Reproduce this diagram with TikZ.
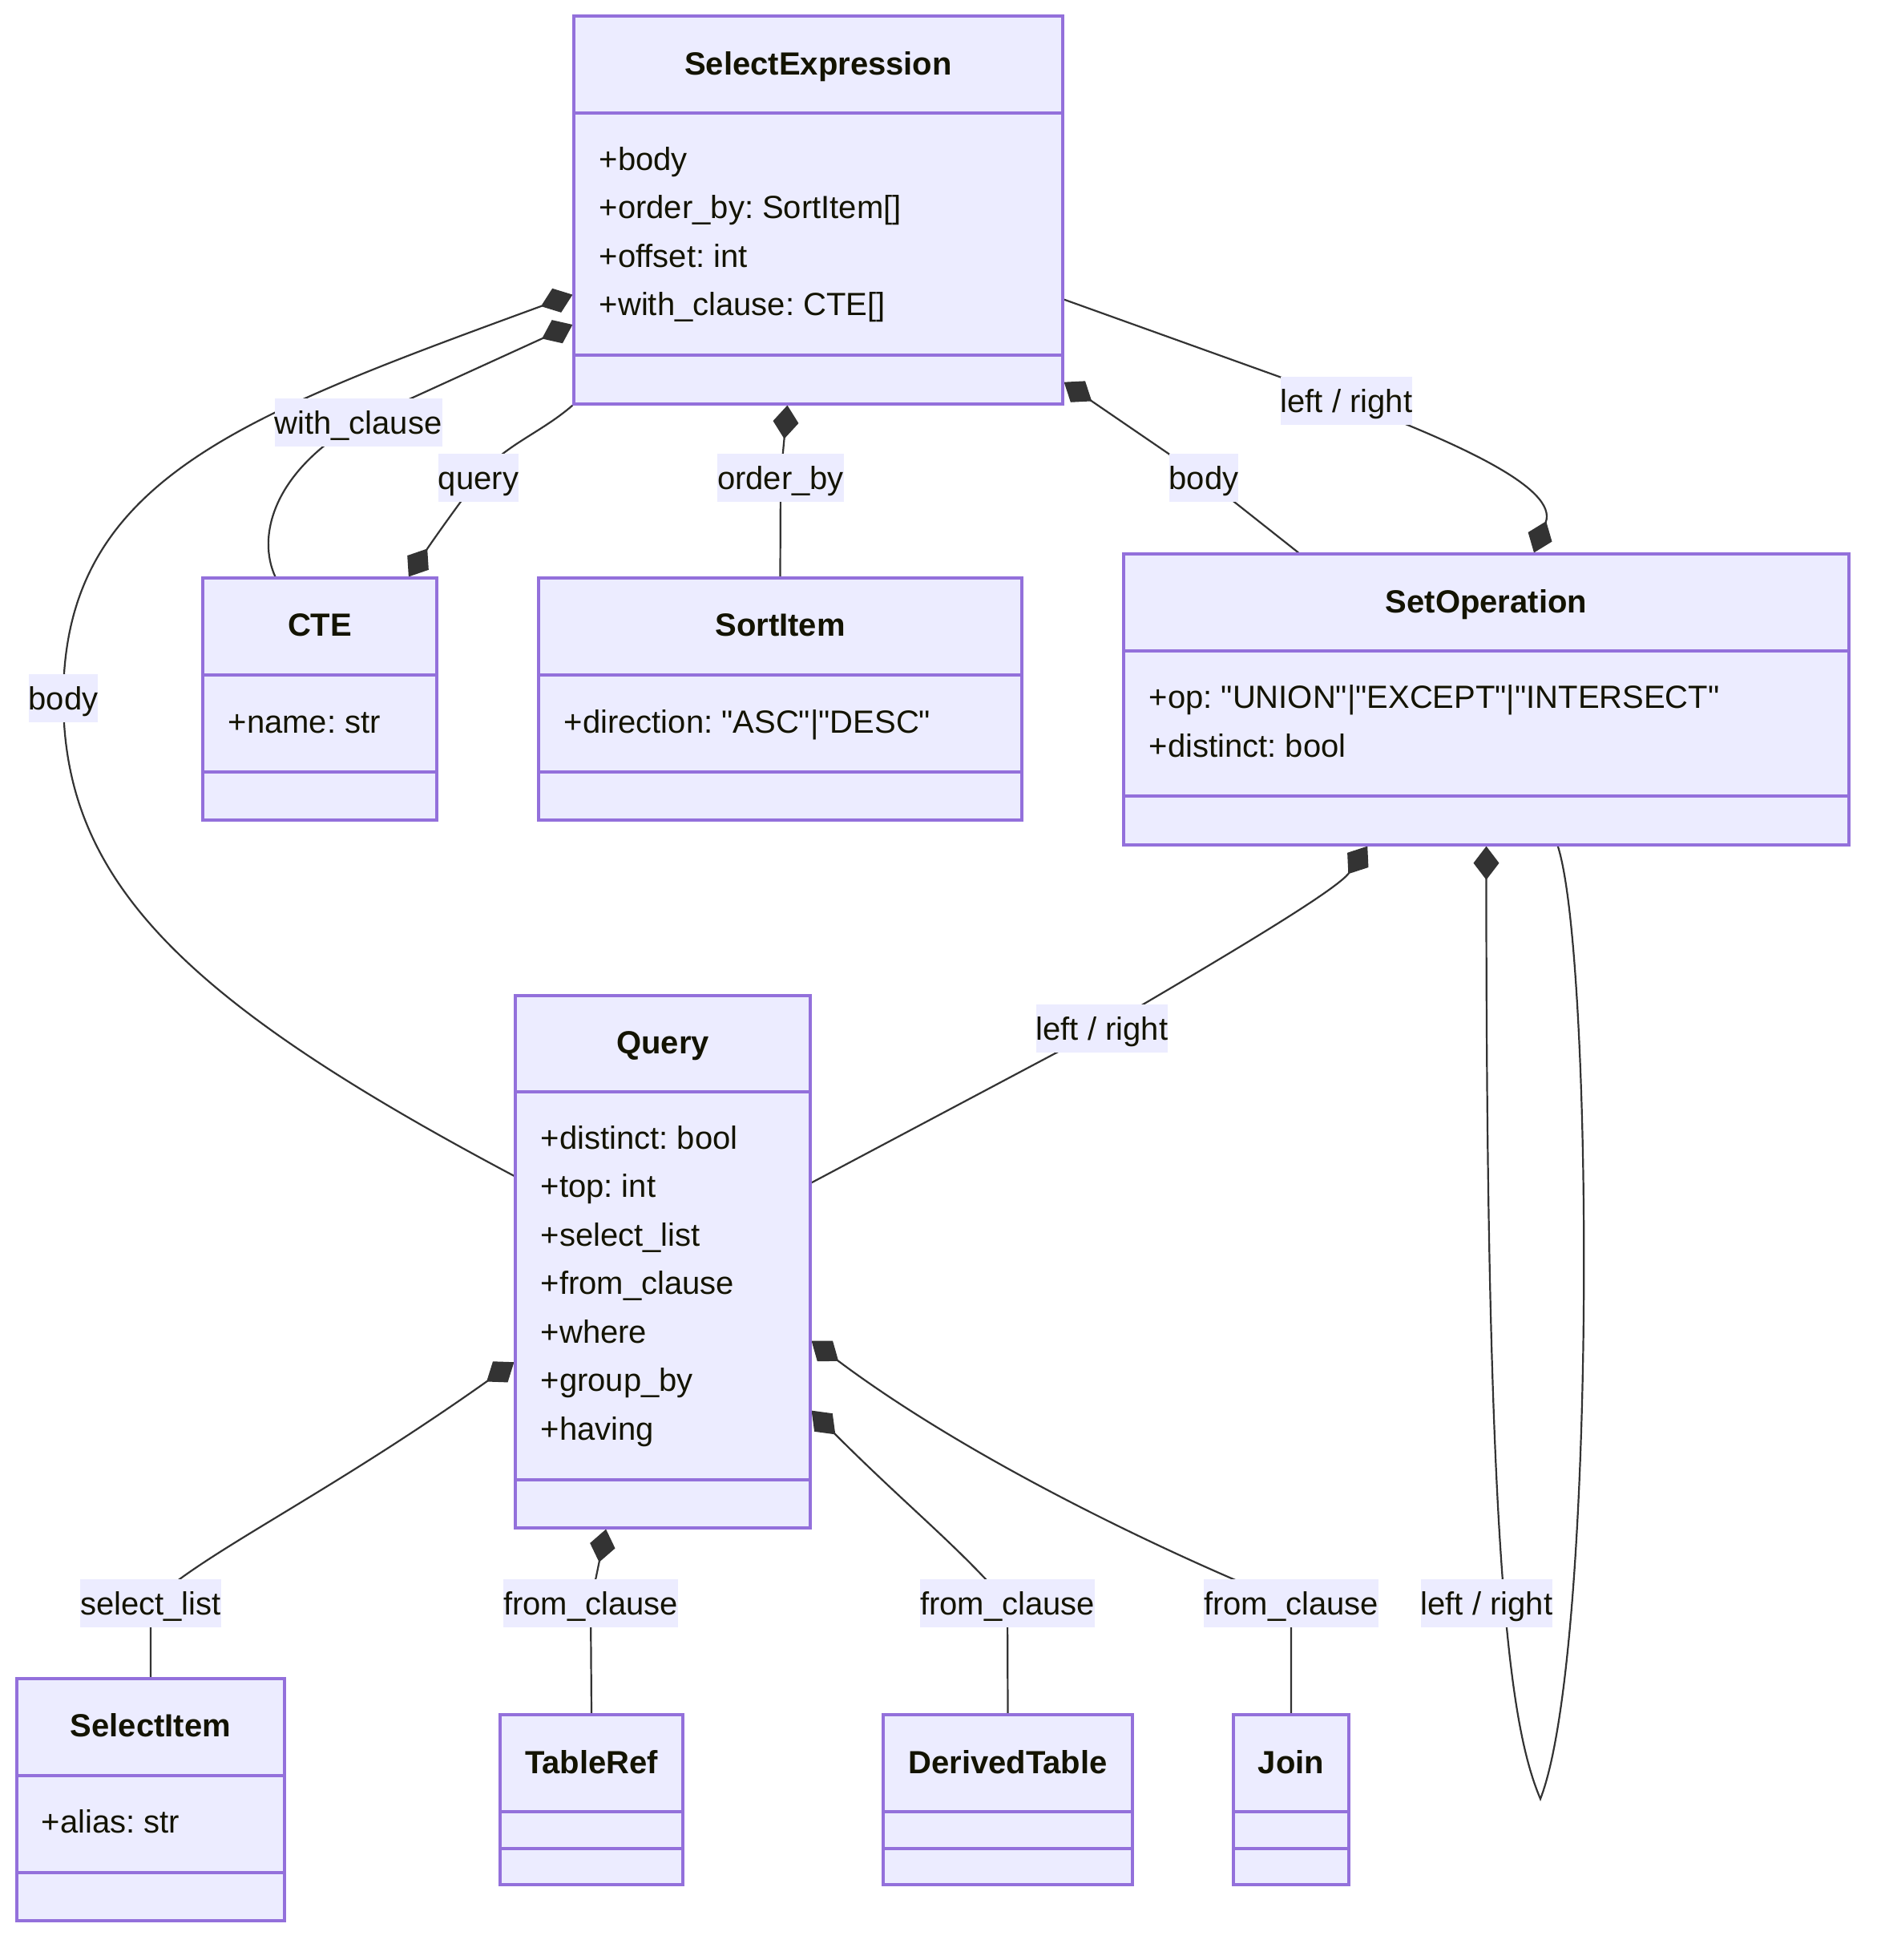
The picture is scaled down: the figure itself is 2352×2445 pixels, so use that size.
\documentclass[tikz,border=0pt]{standalone}
\usepackage{fontspec}
\setmainfont{Liberation Sans}[Ligatures=TeXOff]
\frenchspacing
\usetikzlibrary{arrows.meta, fit}
\definecolor{classfill}{HTML}{ECECFF}
\definecolor{classline}{HTML}{9370DB}
\definecolor{edgeline}{HTML}{333333}
\definecolor{textcol}{HTML}{131300}
\pgfdeclarelayer{edges}
\pgfsetlayers{edges,main}

\begin{document}
\begin{tikzpicture}[x=0.25pt, y=-0.25pt,
    classbox/.style={draw=classline, fill=classfill, line width=0.8pt, inner sep=0pt},
    divider/.style={draw=classline, line width=0.8pt},
    classname/.style={font=\fontsize{10pt}{12pt}\selectfont\bfseries, text=textcol, inner sep=0pt, text height=7.2pt, text depth=0pt},
    member/.style={font=\fontsize{10pt}{12pt}\selectfont, text=textcol, inner sep=0pt, text height=7.2pt, text depth=0pt, anchor=west},
    edgelabel/.style={font=\fontsize{10pt}{12pt}\selectfont, text=textcol, fill=classfill, inner sep=0pt, minimum height=15pt, text height=7.2pt, text depth=0pt},
    comp/.style={draw=edgeline, line width=0.55pt, arrows={Diamond[length=10.5pt, width=8pt]-}}]
    \useasboundingbox (0,0) rectangle (2352,2445);

    % SelectExpression
    \node[classbox, fit={(716,20) (1326,504)}] (se) {};
    \draw[divider] (se.west |- 0,141) -- (se.east |- 0,141);
    \draw[divider] (se.west |- 0,443) -- (se.east |- 0,443);
    \node[classname] (se-t) at (1021,79) {SelectExpression};
    \foreach \txt [count=\i] in {+body, +order\_by: SortItem[], +offset: int, +with\_clause: CTE[]}
        \node[member] (se-m\i) at (747, {198+60.5*(\i-1)}) {\txt};

    % CTE
    \node[classbox, fit={(253,721) (545,1023)}] (cte) {};
    \draw[divider] (cte.west |- 0,842) -- (cte.east |- 0,842);
    \draw[divider] (cte.west |- 0,963) -- (cte.east |- 0,963);
    \node[classname] (cte-t) at (399,779) {CTE};
    \node[member] (cte-m1) at (284,900) {+name: str};

    % SortItem
    \node[classbox, fit={(672,721) (1275,1023)}] (sort) {};
    \draw[divider] (sort.west |- 0,842) -- (sort.east |- 0,842);
    \draw[divider] (sort.west |- 0,963) -- (sort.east |- 0,963);
    \node[classname] (sort-t) at (973.5,779) {SortItem};
    \node[member] (sort-m1) at (703,900) {+direction: "ASC"|"DESC"};

    % SetOperation
    \node[classbox, fit={(1402,691) (2307,1054)}] (so) {};
    \draw[divider] (so.west |- 0,812) -- (so.east |- 0,812);
    \draw[divider] (so.west |- 0,993) -- (so.east |- 0,993);
    \node[classname] (so-t) at (1854.5,750) {SetOperation};
    \node[member] (so-m1) at (1433,869) {+op: "UNION"|"EXCEPT"|"INTERSECT"};
    \node[member] (so-m2) at (1433,930) {+distinct: bool};

    % Query
    \node[classbox, fit={(643,1242) (1011,1906)}] (q) {};
    \draw[divider] (q.west |- 0,1362) -- (q.east |- 0,1362);
    \draw[divider] (q.west |- 0,1846) -- (q.east |- 0,1846);
    \node[classname] (q-t) at (827,1300) {Query};
    \foreach \txt [count=\i] in {+distinct: bool, +top: int, +select\_list, +from\_clause, +where, +group\_by, +having}
        \node[member] (q-m\i) at (674, {1419+60.5*(\i-1)}) {\txt};

    % SelectItem
    \node[classbox, fit={(21,2094) (355,2396)}] (sel) {};
    \draw[divider] (sel.west |- 0,2215) -- (sel.east |- 0,2215);
    \draw[divider] (sel.west |- 0,2336) -- (sel.east |- 0,2336);
    \node[classname] (sel-t) at (188,2152) {SelectItem};
    \node[member] (sel-m1) at (51,2272) {+alias: str};

    % TableRef, DerivedTable, Join
    \node[classbox, fit={(624,2139) (852,2351)}] (tr) {};
    \node[classbox, fit={(1102,2139) (1413,2351)}] (dt) {};
    \node[classbox, fit={(1539,2139) (1683,2351)}] (jn) {};
    \foreach \n in {tr, dt, jn} {
        \draw[divider] (\n.west |- 0,2260) -- (\n.east |- 0,2260);
        \draw[divider] (\n.west |- 0,2306) -- (\n.east |- 0,2306);
    }
    \node[classname] (tr-t) at (738,2198) {TableRef};
    \node[classname] (dt-t) at (1257.5,2198) {DerivedTable};
    \node[classname] (jn-t) at (1611,2198) {Join};

    % Nhan canh
    \node[edgelabel] (bodyl) at (79,871) {body};
    \node[edgelabel] (wcl) at (447,527) {with\_clause};
    \node[edgelabel] (queryl) at (597,596) {query};
    \node[edgelabel] (ordl) at (974,596) {order\_by};
    \node[edgelabel] (body2l) at (1502,596) {body};
    \node[edgelabel] (lr1l) at (1680,500) {left / right};
    \node[edgelabel] (lr2l) at (1375,1283) {left / right};
    \node[edgelabel] (lr3l) at (1855,2000) {left / right};
    \node[edgelabel] (sll) at (188,2000) {select\_list};
    \node[edgelabel] (fc1l) at (737,2000) {from\_clause};
    \node[edgelabel] (fc2l) at (1257,2000) {from\_clause};
    \node[edgelabel] (fc3l) at (1611,2000) {from\_clause};
    \coordinate (loop) at (1922,2244);

    % Quan he hop thanh
    \begin{pgfonlayer}{edges}
        \draw[comp] (se.199) .. controls +(-415,152) and +(0,-272) .. (bodyl.center)
            .. controls +(0,228) and +(-413,-219) .. (q.150);
        \draw[comp] (se.205) -- (wcl.center) .. controls +(-107,62) and +(-23,-50) .. (cte.110);
        \draw[comp] (cte.54) .. controls +(30,-45) and +(-30,40) .. (queryl.center)
            .. controls +(30,-40) and +(-40,35) .. (se.south west);
        \draw[comp] (se.261) -- (ordl.center) -- (sort.north);
        \draw[comp] (se.-35) -- (body2l.center) -- (so.142);
        \draw[comp] (so.72) .. controls +(31,-80) and +(140,53) .. (lr1l.center) -- (se.-20);
        \draw[comp] (so.231) .. controls +(-38,55) and +(145,-85) .. (lr2l.center) -- (q.28);
        \draw[comp] (so.south) .. controls +(0,900) and +(-38,-90) .. (loop)
            .. controls +(70,-180) and +(45,140) .. (so.-64);
        \draw[comp] (q.214) .. controls +(-240,170) and +(60,-60) .. (sll.center) -- (sel.north);
        \draw[comp] (q.258) -- (fc1l.center) -- (tr.north);
        \draw[comp] (q.-45) .. controls +(120,120) and +(-60,-70) .. (fc2l.center) -- (dt.north);
        \draw[comp] (q.-28) .. controls +(200,150) and +(-150,-60) .. (fc3l.center) -- (jn.north);
    \end{pgfonlayer}
\end{tikzpicture}
\end{document}
